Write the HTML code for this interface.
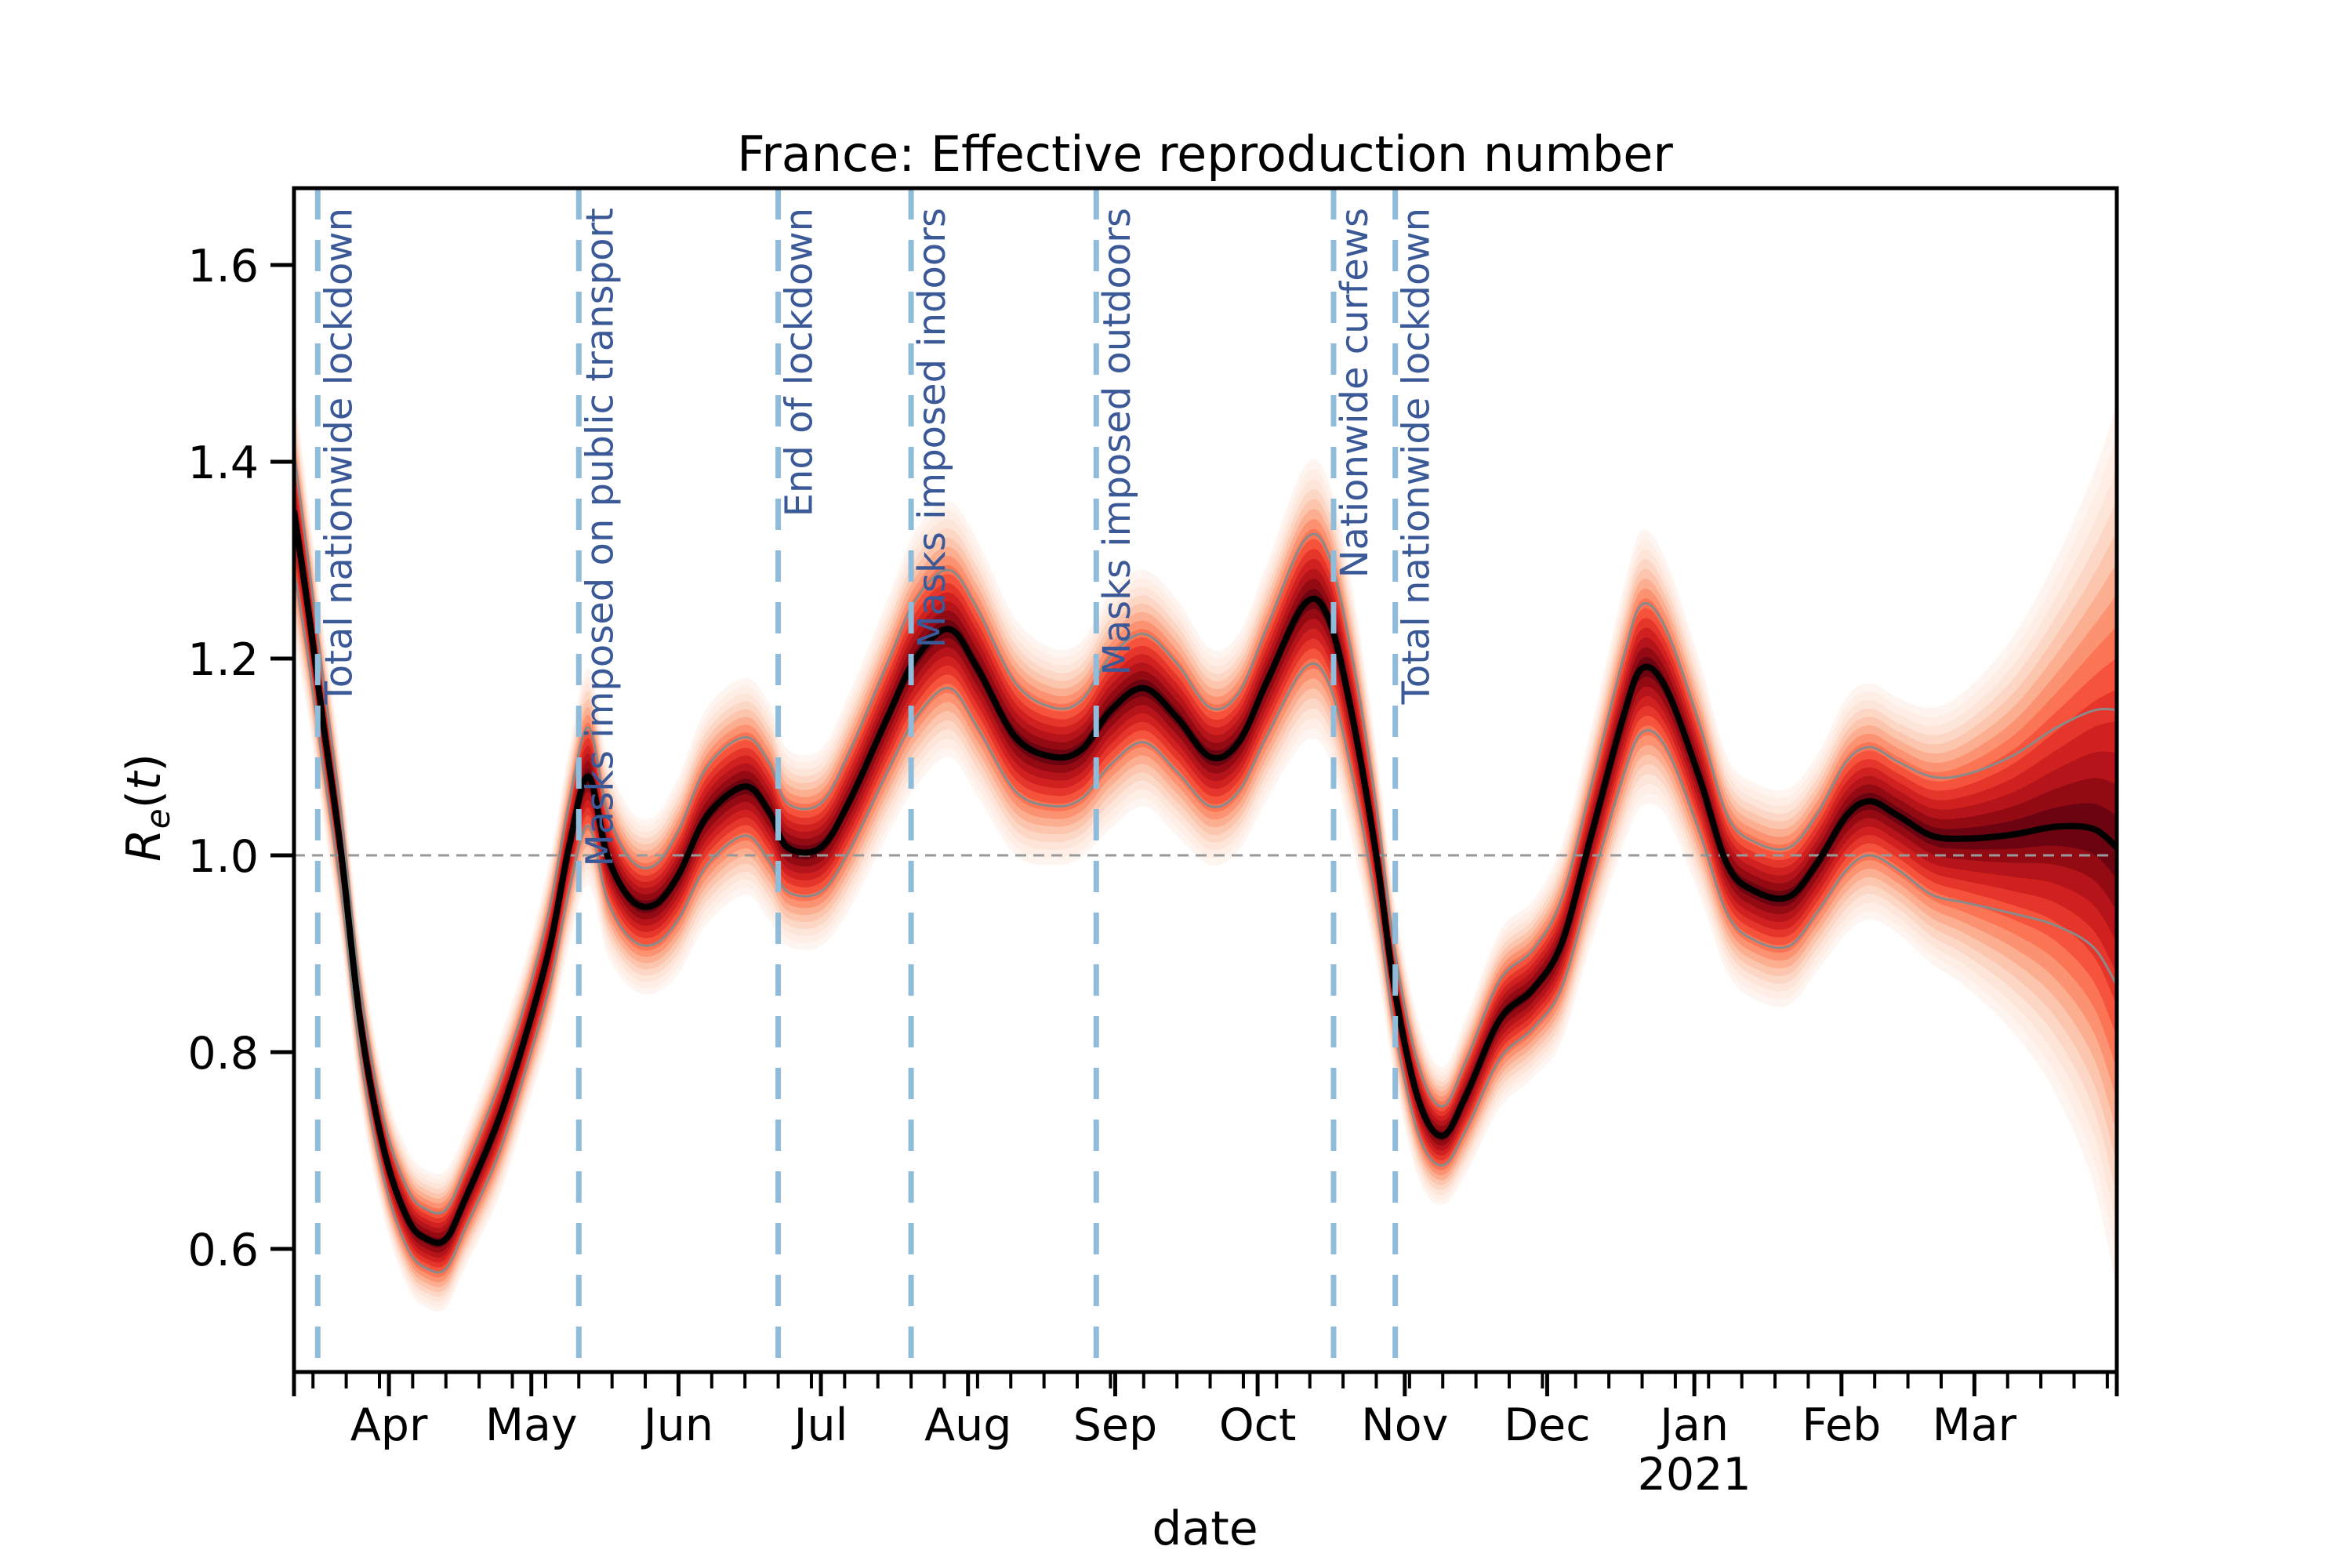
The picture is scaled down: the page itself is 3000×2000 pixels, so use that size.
<!DOCTYPE html>
<html><head><meta charset="utf-8"><style>
html,body{margin:0;padding:0;background:#fff;}
svg{display:block;font-family:"DejaVu Sans","Liberation Sans",sans-serif;}
</style></head><body>
<svg id="chart" width="3000" height="2000" viewBox="0 0 3000 2000" xmlns="http://www.w3.org/2000/svg">
<defs><clipPath id="plotclip"><rect x="375" y="240" width="2325" height="1510"/></clipPath></defs>
<text x="1537" y="218" font-size="62" text-anchor="middle">France: Effective reproduction number</text>
<g id="bands" clip-path="url(#plotclip)"></g>
<g id="overlay" clip-path="url(#plotclip)"></g>
<g id="axes"></g>
<text x="1537" y="1970" font-size="60" text-anchor="middle">date</text>
<text transform="translate(204,1030) rotate(-90)" font-size="60" text-anchor="middle"><tspan font-style="italic">R</tspan><tspan font-style="italic" font-size="42" dy="12">e</tspan><tspan dy="-12">(</tspan><tspan font-style="italic">t</tspan><tspan>)</tspan></text>
</svg>
<script>
// days since 2020-03-12
const days = [0,3,6,10,14,19,24,28,32,36,43,49,54,58,62,66,71,76,81,87,95,100,104,111,117,125,131,138,144,152,160,166,172,179,186,193,199,205,213,218,223,228,232,237,242,247,254,261,267,273,280,284,289,296,302,308,315,321,327,332,338,345,352,362,371,379,384];
const median = [1.35,1.25,1.14,1.00,0.83,0.70,0.63,0.61,0.61,0.65,0.73,0.82,0.91,1.01,1.08,1.00,0.955,0.95,0.98,1.04,1.07,1.045,1.008,1.008,1.055,1.14,1.20,1.23,1.19,1.12,1.10,1.108,1.147,1.17,1.14,1.10,1.115,1.177,1.256,1.24,1.14,1.00,0.86,0.75,0.715,0.757,0.833,0.864,0.91,1.015,1.14,1.19,1.17,1.08,0.99,0.963,0.958,0.993,1.04,1.055,1.04,1.02,1.017,1.021,1.029,1.027,1.008];
const ciHalf = [0.06,0.05,0.045,0.04,0.035,0.03,0.03,0.03,0.03,0.03,0.035,0.035,0.04,0.045,0.05,0.045,0.04,0.04,0.045,0.05,0.05,0.05,0.045,0.045,0.05,0.055,0.06,0.06,0.06,0.055,0.05,0.05,0.055,0.055,0.055,0.05,0.05,0.055,0.065,0.065,0.06,0.05,0.04,0.035,0.03,0.035,0.04,0.04,0.045,0.05,0.06,0.065,0.06,0.055,0.05,0.05,0.05,0.05,0.055,0.055,0.055,0.06,0.065,0.08,0.10,0.12,0.14];
const outerHalf = [0.13,0.11,0.1,0.09,0.08,0.07,0.07,0.07,0.07,0.07,0.08,0.08,0.09,0.1,0.11,0.1,0.09,0.09,0.1,0.11,0.11,0.11,0.1,0.1,0.11,0.12,0.13,0.13,0.13,0.12,0.11,0.11,0.12,0.12,0.12,0.11,0.11,0.12,0.14,0.14,0.13,0.11,0.09,0.08,0.07,0.08,0.09,0.09,0.1,0.11,0.13,0.14,0.13,0.12,0.11,0.11,0.11,0.11,0.12,0.12,0.12,0.13,0.15,0.2,0.27,0.36,0.45];
const eventDays = [5,60,102,130,169,219,232];
const eventLabels = ["Total nationwide lockdown","Masks imposed on public transport","End of lockdown","Masks imposed indoors","Masks imposed outdoors","Nationwide curfews","Total nationwide lockdown"];
const yTicks = [0.6,0.8,1.0,1.2,1.4,1.6];
const monthDays = [20,50,81,111,142,173,203,234,264,295,326,354];
const monthLabels = ["Apr","May","Jun","Jul","Aug","Sep","Oct","Nov","Dec","Jan","Feb","Mar"];
const totalDays = 384;

const NS="http://www.w3.org/2000/svg";
const X0=375,X1=2700,Y0=240,Y1=1750;
const xS=d=>X0+d*(X1-X0)/totalDays;
const yS=v=>1091-(v-1.0)*1255;
function mk(tag,attrs,parent){const e=document.createElementNS(NS,tag);for(const k in attrs)e.setAttribute(k,attrs[k]);parent.appendChild(e);return e;}
function smooth(pts,start){let d=start?"M"+pts[0][0]+","+pts[0][1]:"L"+pts[0][0]+","+pts[0][1];
 for(let i=0;i<pts.length-1;i++){const p0=pts[Math.max(0,i-1)],p1=pts[i],p2=pts[i+1],p3=pts[Math.min(pts.length-1,i+2)];
  const c1=[p1[0]+(p2[0]-p0[0])/6,p1[1]+(p2[1]-p0[1])/6],c2=[p2[0]-(p3[0]-p1[0])/6,p2[1]-(p3[1]-p1[1])/6];
  d+="C"+c1[0].toFixed(1)+","+c1[1].toFixed(1)+" "+c2[0].toFixed(1)+","+c2[1].toFixed(1)+" "+p2[0].toFixed(1)+","+p2[1].toFixed(1);}
 return d;}
const bands=document.getElementById('bands'),ov=document.getElementById('overlay'),ax=document.getElementById('axes');
const palette=["#fff5f0","#ffeee6","#fee5d9","#fdd7c6","#fcc5ad","#fcae91","#fb9373","#fb7555","#f5533b","#e6352a","#d0201f","#b5141a","#930a13","#6b0410"];
const N=palette.length;
for(let i=0;i<N;i++){
 const f=1-i/N;
 const up=days.map((d,j)=>[xS(d),yS(median[j]+outerHalf[j]*f)]);
 const lo=days.map((d,j)=>[xS(d),yS(median[j]-outerHalf[j]*f)]).reverse();
 const p=mk('path',{d:smooth(up,true)+smooth(lo,false)+"Z",fill:palette[i]},bands);
 
 
}
const ref=mk('line',{x1:X0,x2:X1,y1:yS(1),y2:yS(1),stroke:"#999",'stroke-width':3,'stroke-dasharray':"14,9"},ov);


const ciU=mk('path',{d:smooth(days.map((d,j)=>[xS(d),yS(median[j]+ciHalf[j])]),true),fill:"none",stroke:"#8a8a8a",'stroke-width':3},ov);


const ciL=mk('path',{d:smooth(days.map((d,j)=>[xS(d),yS(median[j]-ciHalf[j])]),true),fill:"none",stroke:"#8a8a8a",'stroke-width':3},ov);


const med=mk('path',{d:smooth(days.map((d,j)=>[xS(d),yS(median[j])]),true),fill:"none",stroke:"#000",'stroke-width':8,'stroke-linejoin':'round'},ov);


eventDays.forEach((d,i)=>{
 const x=xS(d);
 const l=mk('line',{x1:x,x2:x,y1:Y0,y2:Y1,stroke:"#8fbcdb",'stroke-width':7,'stroke-dasharray':"40,26"},ax);
 
 
 const t=mk('text',{transform:"translate("+(x+43)+",265) rotate(-90)",'font-size':48,fill:"#3b5897",'text-anchor':'end'},ax);
 t.textContent=eventLabels[i];
 
 
});
const fr=mk('rect',{x:X0,y:Y0,width:X1-X0,height:Y1-Y0,fill:"none",stroke:"#000",'stroke-width':5},ax);


yTicks.forEach(v=>{
 const y=yS(v);
 const tk=mk('line',{x1:X0-30,x2:X0,y1:y,y2:y,stroke:"#000",'stroke-width':5},ax);
 
 
 const t=mk('text',{x:X0-45,y:y+21,'font-size':57,'text-anchor':'end'},ax);
 t.textContent=v.toFixed(1);
 
 
});
for(let d=4;d<=totalDays;d+=7){
 const x=xS(d);
 const tk=mk('line',{x1:x,x2:x,y1:Y1,y2:Y1+21,stroke:"#000",'stroke-width':4},ax);
 
 
}
[0,totalDays].forEach(d=>{const tk=mk('line',{x1:xS(d),x2:xS(d),y1:Y1,y2:Y1+31,stroke:"#000",'stroke-width':5},ax);
 
 });
monthDays.forEach((d,i)=>{
 const x=xS(d);
 const tk=mk('line',{x1:x,x2:x,y1:Y1,y2:Y1+31,stroke:"#000",'stroke-width':5},ax);
 
 
 const t=mk('text',{x:x,y:1837,'font-size':57,'text-anchor':'middle'},ax);
 t.textContent=monthLabels[i];
 
 
 if(monthLabels[i]==="Jan"){
  const y2=mk('text',{x:x,y:1900,'font-size':57,'text-anchor':'middle'},ax);
  y2.textContent="2021";
  
  
 }
});
</script>
</body></html>
